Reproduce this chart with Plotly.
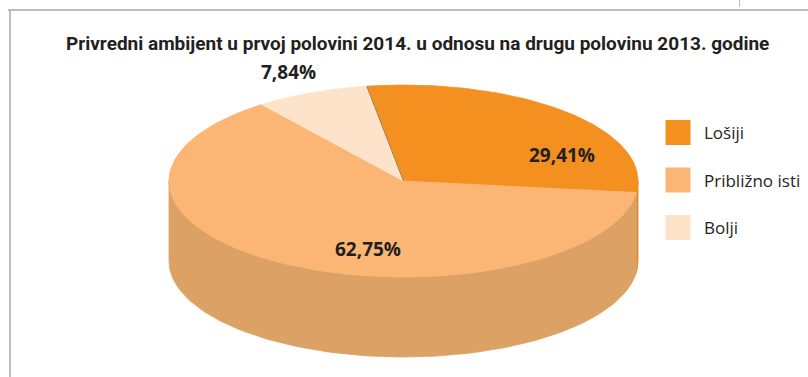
import numpy as np
import plotly.graph_objects as go

# ---- data ----
categories = ["Lošiji", "Približno isti", "Bolji"]
shares = [29.41, 62.75, 7.84]
share_labels = ["29,41%", "62,75%", "7,84%"]
title_text = "Privredni ambijent u prvoj polovini 2014. u odnosu na drugu polovinu 2013. godine"

# ---- styling ----
W, H = 808, 377
top_colors = ["#F39020", "#FBB574", "#FDE3C9"]
side_colors = ["#E0861C", "#DCA265", "#EBC9A6"]
CX, CY = 403.5, 181.0      # centre of the top ellipse (pixel space)
RX, RY = 234.5, 96.0       # radii of the top ellipse
DEPTH = 80.0               # thickness of the pie
START_DEG = 99.0           # first slice starts here and runs clockwise
LABEL_XY = [(562, 155), (368, 249), (288, 72)]
TEXT_COLOR = "#231F20"

fig = go.Figure()


def ellipse_pts(a_from, a_to, dy=0.0, n=120):
    t = np.radians(np.linspace(a_from, a_to, n))
    return CX + RX * np.cos(t), CY - RY * np.sin(t) + dy


# slice angle intervals, clockwise from START_DEG
total = float(sum(shares))
intervals = []
a = START_DEG
for v in shares:
    span = 360.0 * v / total
    intervals.append((a - span, a))  # (low, high) in degrees
    a -= span

# visible side walls (front half of the cylinder: 180..360 deg)
for (lo, hi), col in zip(intervals, side_colors):
    for k in (-1, 0, 1):
        l2, h2 = lo + 360 * k, hi + 360 * k
        s, e = max(l2, 180.0), min(h2, 360.0)
        if e > s:
            xt, yt = ellipse_pts(s, e)
            xb, yb = ellipse_pts(e, s, dy=DEPTH)
            fig.add_trace(go.Scatter(
                x=np.concatenate([xt, xb, xt[:1]]),
                y=np.concatenate([yt, yb, yt[:1]]),
                mode="lines", fill="toself", fillcolor=col,
                line=dict(color=col, width=0.8),
                hoverinfo="skip", showlegend=False))

# top faces
for (lo, hi), col, name in zip(intervals, top_colors, categories):
    xs, ys = ellipse_pts(hi, lo)
    fig.add_trace(go.Scatter(
        x=np.concatenate([[CX], xs, [CX]]),
        y=np.concatenate([[CY], ys, [CY]]),
        mode="lines", fill="toself", fillcolor=col,
        line=dict(color=col, width=0.8),
        name=name, hoverinfo="skip", showlegend=False))

# thin shading on the edge between "Bolji" and "Lošiji"
xe, ye = ellipse_pts(intervals[0][1], intervals[0][1], n=2)
fig.add_trace(go.Scatter(
    x=[CX, xe[0]], y=[CY, ye[0]], mode="lines",
    line=dict(color="#8A5A20", width=0.8),
    hoverinfo="skip", showlegend=False))

# percentage labels
for (lx, ly), txt in zip(LABEL_XY, share_labels):
    fig.add_annotation(x=lx, y=ly, text=f"<b>{txt}</b>", showarrow=False,
                       font=dict(family="Open Sans", size=19, color=TEXT_COLOR),
                       xanchor="center", yanchor="middle")

# legend: swatches + names
leg_x, leg_y0, leg_dy = 678, 132.5, 47.5
fig.add_trace(go.Scatter(
    x=[leg_x] * len(categories),
    y=[leg_y0 + i * leg_dy for i in range(len(categories))],
    mode="markers",
    marker=dict(symbol="square", size=25, color=top_colors, line=dict(width=0)),
    hoverinfo="skip", showlegend=False))
for i, name in enumerate(categories):
    fig.add_annotation(x=702, y=leg_y0 + i * leg_dy, text=name, showarrow=False,
                       xanchor="left", yanchor="middle",
                       font=dict(family="Open Sans", size=17, color=TEXT_COLOR))

# title
fig.add_annotation(x=417, y=43, text=f"<b>{title_text}</b>", showarrow=False,
                   xanchor="center", yanchor="middle",
                   font=dict(family="Roboto, sans-serif", size=19, color=TEXT_COLOR))

# frame lines
frame = "#BDBDBD"
fig.add_shape(type="line", x0=8, x1=W, y0=10, y1=10, line=dict(color=frame, width=2))
fig.add_shape(type="line", x0=10, x1=10, y0=10, y1=H, line=dict(color=frame, width=2))
fig.add_shape(type="line", x0=739.5, x1=739.5, y0=0, y1=7, line=dict(color=frame, width=1))

fig.update_layout(
    width=W, height=H, autosize=False,
    margin=dict(l=0, r=0, t=0, b=0),
    paper_bgcolor="white", plot_bgcolor="white",
    xaxis=dict(range=[0, W], visible=False, fixedrange=True),
    yaxis=dict(range=[H, 0], visible=False, fixedrange=True),
    showlegend=False,
)

fig.write_html("out.html")
